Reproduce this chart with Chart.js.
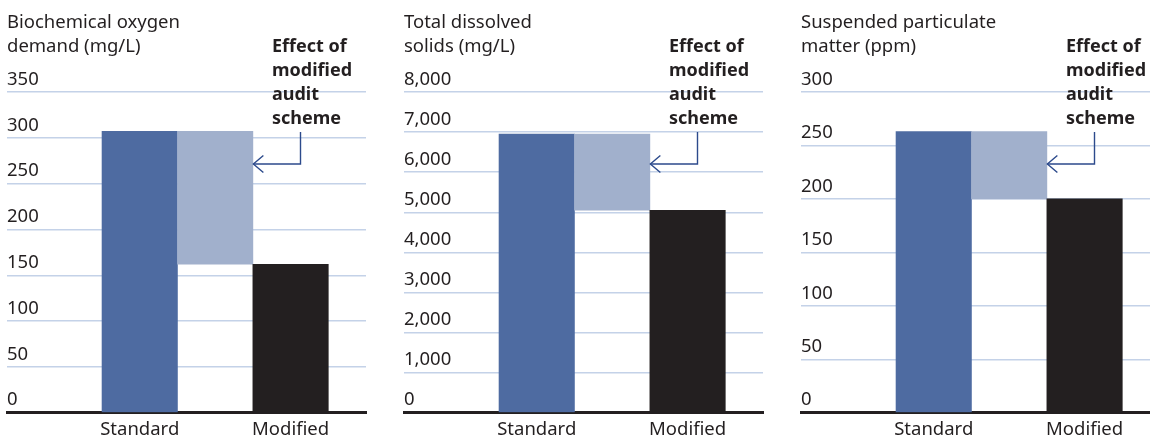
<!DOCTYPE html>
<html>
<head>
<meta charset="utf-8">
<script src="https://cdn.jsdelivr.net/npm/chart.js@4"></script>
<style>
  html, body { margin: 0; padding: 0; background: #fff; overflow: hidden; }
  .panel { position: absolute; top: 0; width: 397px; height: 439px; }
</style>
</head>
<body>
<div class="panel" style="left:0px"><canvas id="bod-chart"></canvas></div>
<div class="panel" style="left:397px"><canvas id="tds-chart"></canvas></div>
<div class="panel" style="left:794px"><canvas id="spm-chart"></canvas></div>
<script>
const categories = ["Standard", "Modified"];
const noteLines = ["Effect of", "modified", "audit", "scheme"];

const bodTitle = ["Biochemical oxygen", "demand (mg/L)"];
const bodValues = [307, 162]; // standard, modified
const bodTicks = [0, 50, 100, 150, 200, 250, 300, 350];

const tdsTitle = ["Total dissolved", "solids (mg/L)"];
const tdsValues = [6950, 5050];
const tdsTicks = [0, 1000, 2000, 3000, 4000, 5000, 6000, 7000, 8000];

const spmTitle = ["Suspended particulate", "matter (ppm)"];
const spmValues = [263, 200];
const spmTicks = [0, 50, 100, 150, 200, 250, 300];

const FONT = "'Noto Sans', sans-serif";
const INK = "#231f20";
const SIZE = 18.5;

// draws the bold note and the bent arrow pointing at the floating bar
const notePlugin = {
	id: "note",
	afterDatasetsDraw(chart) {
		const ctx = chart.ctx;
		const area = chart.chartArea;
		const bar = chart.getDatasetMeta(0).data[1];
		const tipX = bar.x + bar.width / 2 + 0.5;
		const lineX = area.left + 293.5;
		const lineY = area.top + 72;
		ctx.save();
		ctx.fillStyle = INK;
		ctx.font = "bold 18px " + FONT;
		ctx.textBaseline = "middle";
		ctx.textAlign = "left";
		noteLines.forEach((t, i) => {
			ctx.fillText(t, area.left + 265, area.top - 45 + i * 23.9);
		});
		ctx.strokeStyle = "#2c4a8c";
		ctx.lineWidth = 1.4;
		ctx.beginPath();
		ctx.moveTo(lineX, area.top + 40);
		ctx.lineTo(lineX, lineY);
		ctx.lineTo(tipX, lineY);
		ctx.stroke();
		ctx.beginPath();
		ctx.moveTo(tipX + 10, lineY - 8.5);
		ctx.lineTo(tipX, lineY);
		ctx.lineTo(tipX + 10, lineY + 8.5);
		ctx.stroke();
		ctx.restore();
	},
};

function createChart(id, title, values, ticks) {
	const std = values[0];
	const mod = values[1];
	return new Chart(document.getElementById(id), {
		type: "bar",
		data: {
			datasets: [
				{
					data: [
						{ x: 0, y: std },
						{ x: 1, y: [mod, std] },
						{ x: 2, y: mod },
					],
					backgroundColor: ["#4e6ba1", "#a1b0cc", INK],
					borderWidth: 0,
					barPercentage: 1,
					categoryPercentage: 1,
				},
			],
		},
		options: {
			responsive: true,
			maintainAspectRatio: false,
			animation: false,
			layout: { padding: { left: 7, right: 31, top: 0, bottom: -7.5 } },
			plugins: {
				legend: { display: false },
				tooltip: { enabled: false },
				title: {
					display: true,
					text: title,
					align: "start",
					color: INK,
					font: { family: FONT, size: SIZE, weight: "normal", lineHeight: 24 / SIZE },
					padding: { top: 10.7, bottom: 33.3 },
				},
			},
			scales: {
				x: {
					type: "linear",
					min: -1.76,
					max: 3,
					offset: false,
					z: 1,
					grid: { display: false, drawTicks: false, offset: false },
					border: { display: true, color: INK, width: 3 },
					afterBuildTicks: (scale) => {
						scale.ticks = [{ value: 0 }, { value: 2 }];
					},
					ticks: {
						autoSkip: false,
						maxRotation: 0,
						padding: 7,
						color: INK,
						font: { family: FONT, size: SIZE, lineHeight: 19.8 / SIZE },
						callback: (v, i) => categories[i],
					},
				},
				y: {
					min: 0,
					max: ticks[ticks.length - 1],
					grid: { color: "#c4d2e8", lineWidth: 1.5, drawTicks: false },
					border: { display: false },
					afterBuildTicks: (scale) => {
						scale.ticks = ticks.map((v) => ({ value: v }));
					},
					ticks: {
						mirror: true,
						padding: 0,
						labelOffset: -12.5,
						color: INK,
						font: { family: FONT, size: SIZE },
						callback: (v) => v.toLocaleString("en-US"),
					},
				},
			},
		},
		plugins: [notePlugin],
	});
}

createChart("bod-chart", bodTitle, bodValues, bodTicks);
createChart("tds-chart", tdsTitle, tdsValues, tdsTicks);
createChart("spm-chart", spmTitle, spmValues, spmTicks);
</script>
</body>
</html>
